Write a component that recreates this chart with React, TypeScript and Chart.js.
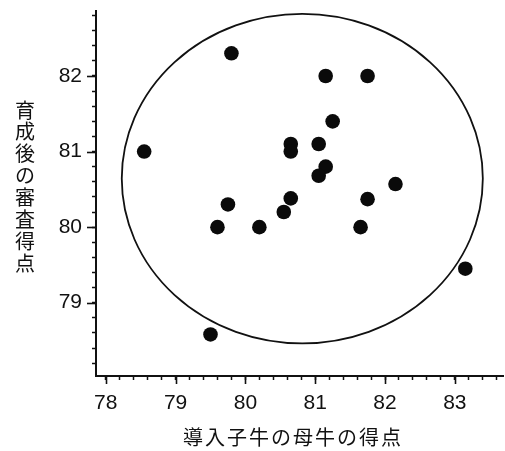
import React, { useEffect, useRef } from 'react';
import { Chart, registerables } from 'chart.js';
Chart.register(...registerables);

// 導入子牛の母牛の得点 (x) vs 育成後の審査得点 (y)
const damScores = [79.8, 81.15, 81.75, 81.25, 80.65, 80.65, 81.05, 78.55, 81.15, 81.05, 82.15, 80.65, 81.75, 79.75, 80.55, 79.6, 80.2, 81.65, 83.15, 79.5];
const rearedScores = [82.3, 82.0, 82.0, 81.4, 81.1, 81.0, 81.1, 81.0, 80.8, 80.68, 80.57, 80.38, 80.37, 80.3, 80.2, 80.0, 80.0, 80.0, 79.45, 78.58];

const xRange = [77.86, 83.69];
const yRange = [78.03, 82.86];
const minorStep = 0.2;

const ellipseCenter = [80.815, 80.642];
const ellipseRadii = [2.586, 2.18];

const xTitle = '導入子牛の母牛の得点';
const yTitle = '育成後の審査得点';

const tickFont = '"Liberation Sans", Arial, sans-serif';
const cjkFont = '"Noto Sans CJK JP", "Noto Sans", sans-serif';

const isInt = (v: number) => Math.abs(v - Math.round(v)) < 1e-6;

const decorPlugin = {
  id: 'decor',
  beforeDatasetsDraw(chart: any) {
    const { ctx, scales } = chart;
    const xs = scales.x, ys = scales.y;
    const cx = xs.getPixelForValue(ellipseCenter[0]);
    const cy = ys.getPixelForValue(ellipseCenter[1]);
    const rx = Math.abs(xs.getPixelForValue(ellipseCenter[0] + ellipseRadii[0]) - cx);
    const ry = Math.abs(ys.getPixelForValue(ellipseCenter[1] + ellipseRadii[1]) - cy);
    ctx.save();
    ctx.beginPath();
    ctx.ellipse(cx, cy, rx, ry, 0, 0, Math.PI * 2);
    ctx.strokeStyle = '#111';
    ctx.lineWidth = 1.8;
    ctx.stroke();
    ctx.restore();
  },
  afterDraw(chart: any) {
    const { ctx, scales, chartArea } = chart;
    ctx.save();
    ctx.strokeStyle = '#111';
    ctx.lineWidth = 1.6;
    for (const t of scales.x.ticks) {
      if (!isInt(t.value)) continue;
      const x = Math.round(scales.x.getPixelForValue(t.value)) + 0.5;
      ctx.beginPath();
      ctx.moveTo(x, chartArea.bottom);
      ctx.lineTo(x, chartArea.bottom + 8);
      ctx.stroke();
    }
    for (const t of scales.y.ticks) {
      if (!isInt(t.value)) continue;
      const y = Math.round(scales.y.getPixelForValue(t.value)) + 0.5;
      ctx.beginPath();
      ctx.moveTo(chartArea.left, y);
      ctx.lineTo(chartArea.left - 9, y);
      ctx.stroke();
    }
    ctx.fillStyle = '#111';
    ctx.textAlign = 'center';
    ctx.textBaseline = 'middle';
    ctx.font = `20px ${cjkFont}`;
    (ctx as any).letterSpacing = '2px';
    ctx.fillText(xTitle, 293, 437);
    (ctx as any).letterSpacing = '0px';
    const chars = Array.from(yTitle);
    chars.forEach((ch, i) => {
      ctx.fillText(ch, 25, 110 + i * 21.9);
    });
    ctx.restore();
  },
};

const zeroPad = (s: any) => {
  s.paddingTop = 0;
  s.paddingBottom = 0;
  s.paddingLeft = 0;
  s.paddingRight = 0;
};

export default function App() {
  const ref = useRef<HTMLCanvasElement>(null);
  useEffect(() => {
    if (!ref.current) return;
    const points = damScores.map((x, i) => ({ x, y: rearedScores[i] }));
    const chart = new Chart(ref.current, {
      type: 'scatter',
      data: {
        datasets: [
          {
            data: points,
            backgroundColor: '#0a0a0a',
            borderWidth: 0,
            pointRadius: 7.3,
            clip: false,
          },
        ],
      },
      options: {
        animation: false,
        responsive: false,
        layout: { autoPadding: false, padding: { top: 11, right: 2, left: 0, bottom: 0 } },
        plugins: { legend: { display: false }, tooltip: { enabled: false } },
        scales: {
          x: {
            type: 'linear',
            min: xRange[0],
            max: xRange[1],
            afterFit: (s: any) => { s.height = 75; zeroPad(s); },
            border: { display: true, color: '#111', width: 2 },
            grid: { drawOnChartArea: false, drawTicks: true, tickLength: 4, tickWidth: 1.5, tickColor: '#111' },
            ticks: {
              stepSize: minorStep,
              includeBounds: false,
              autoSkip: false,
              maxRotation: 0,
              padding: 11,
              color: '#111',
              font: { family: tickFont, size: 21 },
              callback: (v: any) => (isInt(Number(v)) ? String(Math.round(Number(v))) : ''),
            },
          },
          y: {
            type: 'linear',
            min: yRange[0],
            max: yRange[1],
            afterFit: (s: any) => { s.width = 96; zeroPad(s); },
            border: { display: true, color: '#111', width: 2 },
            grid: { drawOnChartArea: false, drawTicks: true, tickLength: 4, tickWidth: 1.5, tickColor: '#111' },
            ticks: {
              stepSize: minorStep,
              includeBounds: false,
              autoSkip: false,
              padding: 10,
              color: '#111',
              font: { family: tickFont, size: 21 },
              callback: (v: any) => (isInt(Number(v)) ? String(Math.round(Number(v))) : ''),
            },
          },
        },
      },
      plugins: [decorPlugin],
    });
    return () => chart.destroy();
  }, []);
  return (
    <div style={{ position: 'absolute', left: 0, top: 0, width: 505, height: 451, background: '#fff' }}>
      <canvas ref={ref} width={505} height={451} style={{ width: 505, height: 451, display: 'block' }} />
    </div>
  );
}
